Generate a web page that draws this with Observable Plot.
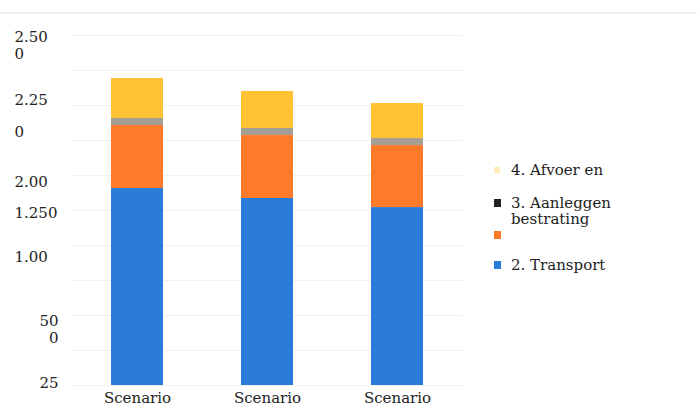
<!DOCTYPE html>
<html>
<head>
<meta charset="utf-8">
<script src="https://cdn.jsdelivr.net/npm/d3@7"></script>
<script src="https://cdn.jsdelivr.net/npm/@observablehq/plot@0.6"></script>
<style>
  html, body { margin: 0; padding: 0; background: #fff; }
  #wrap { position: relative; width: 697px; height: 419px; overflow: hidden; font-family: "DejaVu Serif", serif; }
  #topline { position: absolute; left: 0; top: 12px; width: 697px; height: 0; border-top: 2px solid #f0f0f0; }
  #chart { position: absolute; left: 0; top: 0; }
  .leg { position: absolute; left: 0; top: 0; }
  .item { position: absolute; left: 494px; font-size: 15px; line-height: 16px; color: #222; }
  .mk { position: absolute; left: 0; width: 7px; height: 8px; }
  .lbl { position: absolute; left: 17px; white-space: pre; }
</style>
</head>
<body>
<div id="wrap">
  <div id="topline"></div>
  <div id="chart"></div>
  <div class="leg" id="legend"></div>
</div>
<script>
// ---- data ----
const scenarios = ["Scenario 1", "Scenario 2", "Scenario 3"];
const xTickLabels = ["Scenario", "Scenario", "Scenario"];
const seriesKeys = ["Transport", "Oranje", "Aanleggen", "Afvoer"];
const seriesColors = ["#2B7BD8", "#FF7B2A", "#A59E95", "#FFC233"];
const transport = [1407, 1336, 1271];
const oranje = [450, 450, 443];
const aanleggen = [50, 50, 50];
const afvoer = [286, 264, 250];
const yGridTicks = [0, 250, 500, 750, 1000, 1250, 1500, 1750, 2000, 2250, 2500];
const yTickValues = [2485, 2364, 2036, 1807, 1450, 1229, 914, 457, 336, 14];
const yTickLabels = ["2.50", "0", "2.25", "0", "2.00", "1.250", "1.00", "50", "0", "25"];
// legend (top to bottom)
const legendLabels = ["4. Afvoer en", "3. Aanleggen\nbestrating", "", "2. Transport"];
const legendColors = ["#FFE08A", "#222222", "#FF7B2A", "#2B7BD8"];

// ---- build table ----
const seriesValues = [transport, oranje, aanleggen, afvoer];
const rows = [];
seriesKeys.forEach((s, i) => scenarios.forEach((sc, j) => rows.push({scenario: sc, series: s, value: seriesValues[i][j]})));
const yLab = yTickValues.map((v, i) => ({v, t: yTickLabels[i]}));
const upper = yLab.filter(d => d.v > 700);
const lower = yLab.filter(d => d.v <= 700);
const font = "DejaVu Serif";

const chart = Plot.plot({
  width: 697,
  height: 419,
  marginLeft: 72,
  marginRight: 235,
  marginTop: 35,
  marginBottom: 34,
  style: {fontFamily: font, fontSize: "15px", color: "#222", background: "transparent"},
  x: {domain: scenarios, paddingInner: 0.6, paddingOuter: 0.3, axis: null},
  y: {domain: [0, 2500], axis: null},
  color: {domain: seriesKeys, range: seriesColors},
  marks: [
    Plot.gridY(yGridTicks, {stroke: "#f0f0f0", strokeOpacity: 1, strokeWidth: 1}),
    Plot.barY(rows, {x: "scenario", y: "value", fill: "series"}),
    Plot.axisX({tickSize: 0, tickPadding: 7, fontSize: 15, fill: "#222",
      tickFormat: d => xTickLabels[scenarios.indexOf(d)], label: null}),
    Plot.text(upper, {y: "v", text: "t", frameAnchor: "left", textAnchor: "start", dx: -58, fontSize: 15, fill: "#222"}),
    Plot.text(lower, {y: "v", text: "t", frameAnchor: "left", textAnchor: "end", dx: -14, fontSize: 15, fill: "#222"})
  ]
});
document.getElementById("chart").appendChild(chart);

// ---- legend ----
const legendTops = [162, 195, 227, 257];
const leg = document.getElementById("legend");
legendLabels.forEach((lab, i) => {
  const it = document.createElement("div");
  it.className = "item";
  it.style.top = legendTops[i] + "px";
  const mk = document.createElement("div");
  mk.className = "mk";
  mk.style.top = "4px";
  mk.style.background = legendColors[i];
  if (i === 0) { mk.style.opacity = "0.6"; mk.style.width = "6px"; mk.style.height = "6px"; mk.style.top = "5px"; }
  const tx = document.createElement("div");
  tx.className = "lbl";
  tx.textContent = lab;
  it.appendChild(mk);
  it.appendChild(tx);
  leg.appendChild(it);
});
</script>
</body>
</html>
